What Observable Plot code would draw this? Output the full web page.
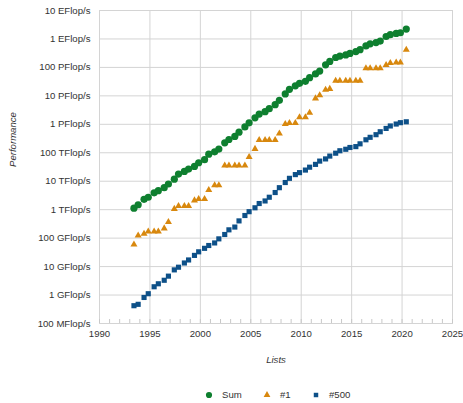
<!DOCTYPE html>
<html>
<head>
<meta charset="utf-8">
<script src="https://cdn.jsdelivr.net/npm/d3@7"></script>
<script src="https://cdn.jsdelivr.net/npm/@observablehq/plot@0.6"></script>
<style>
body { margin: 0; background: #fff; font-family: "Liberation Sans", Arial, sans-serif; }
#legend svg { display: block; }
</style>
</head>
<body>
<div id="chart"></div>
<div id="legend"></div>
<script>
// Lists: June and November of each year, 1993.06 .. 2020.06
const years = d3.range(1993, 2021);
const lists = years.flatMap(y => y === 2020 ? [y + 5/12] : [y + 5/12, y + 10/12]);

// Performance in GFlop/s
const sumGF = [1128, 1493, 2317, 2732, 3927, 4648, 5947, 7987, 11840, 17900,
  22090, 26700, 33090, 44680, 57000, 89100, 108000, 134500, 223000, 293000,
  374000, 528000, 813000, 1127000, 1690000, 2300000, 2790000, 3540000, 4920000, 6970000,
  11700000, 16950000, 22600000, 27600000, 32400000, 43700000, 58900000, 74200000, 123000000, 162000000,
  223000000, 250000000, 274000000, 309000000, 361000000, 420000000, 567000000, 672000000, 749000000, 845000000,
  1220000000, 1410000000, 1560000000, 1650000000, 2220000000];
const firstGF = [59.7, 124, 143.4, 170, 170, 170, 220.4, 368.2, 1068, 1338,
  1338, 1338, 2121, 2379, 2379, 4938, 7226, 7226, 35860, 35860,
  35860, 35860, 35860, 70720, 136800, 280600, 280600, 280600, 280600, 478200,
  1026000, 1105000, 1105000, 1759000, 1759000, 2566000, 8162000, 10510000, 16324750, 17590000,
  33862700, 33862700, 33862700, 33862700, 33862700, 33862700, 93014600, 93014600, 93014600, 93014600,
  122300000, 143500000, 148600000, 148600000, 415530000];
const lastGF = [0.422, 0.472, 0.822, 1.114, 1.955, 2.489, 3.306, 4.616, 7.67, 9.51,
  13.39, 17.1, 24.73, 33.08, 43.82, 55.1, 67.78, 94.3, 134.3, 195.8,
  245.1, 403.4, 624, 850.6, 1166, 1646, 2026, 2737, 4005, 5929,
  9000, 12640, 17090, 20050, 24670, 31120, 39090, 50940, 60820, 76500,
  96620, 117800, 132800, 153400, 164700, 206400, 286100, 349300, 432200, 548300,
  715600, 874800, 1022000, 1142000, 1228000];

const seriesNames = ["Sum", "#1", "#500"];
const seriesColors = ["#0e7f2f", "#d8880e", "#0d5088"];
const seriesSymbols = ["circle", "triangle", "square"];
const seriesValues = [sumGF, firstGF, lastGF];

const yTicks = [1e-1, 1, 10, 100, 1e3, 1e4, 1e5, 1e6, 1e7, 1e8, 1e9, 1e10];
const yTickLabels = ["100 MFlop/s", "1 GFlop/s", "10 GFlop/s", "100 GFlop/s", "1 TFlop/s", "10 TFlop/s",
  "100 TFlop/s", "1 PFlop/s", "10 PFlop/s", "100 PFlop/s", "1 EFlop/s", "10 EFlop/s"];
const xTicks = d3.range(1990, 2026, 5);
const xMinorTicks = d3.range(1990, 2026, 1);

const rows = [];
seriesNames.forEach((name, s) => {
  seriesValues[s].forEach((v, i) => rows.push({series: name, x: lists[i], y: v}));
});

const markFor = (s, r) => Plot.dot(rows.filter(d => d.series === seriesNames[s]), {
  x: "x", y: "y", symbol: () => seriesSymbols[s], fill: seriesColors[s], r: r
});

const yLabelOf = d => {
  const i = yTicks.findIndex(t => Math.abs(Math.log10(t) - Math.log10(d)) < 1e-6);
  return i >= 0 ? yTickLabels[i] : "";
};

const chart = Plot.plot({
  width: 463,
  height: 378,
  marginTop: 10,
  marginBottom: 55,
  marginLeft: 99,
  marginRight: 11,
  style: {fontFamily: "'Liberation Sans', Arial, sans-serif", fontSize: "9.6px", color: "#333", overflow: "visible"},
  x: {domain: [1990, 2025]},
  y: {type: "log", domain: [1e-1, 1e10], ticks: yTicks, tickFormat: yLabelOf, tickSize: 0, tickPadding: 9, label: null},
  symbol: {type: "identity"},
  marks: [
    Plot.ruleX(xTicks, {stroke: "#d4d4d4"}),
    Plot.ruleY(yTicks, {stroke: "#d4d4d4"}),
    Plot.frame({stroke: "#d4d4d4"}),
    Plot.axisX(xMinorTicks, {tickSize: -4, stroke: "#c8c8c8", tickFormat: () => "", label: null}),
    Plot.axisX(xTicks, {tickSize: 0, tickPadding: 7, tickFormat: d => String(d), label: null, fill: "#333"}),
    Plot.text(["Lists"], {frameAnchor: "bottom", dy: 39, fontStyle: "italic", fill: "#333"}),
    Plot.text(["Performance"], {frameAnchor: "left", dx: -87, rotate: -90, fontStyle: "italic", fill: "#333"}),
    markFor(2, 2.9),
    markFor(1, 2.6),
    markFor(0, 3.6)
  ]
});
document.getElementById("chart").appendChild(chart);

// Legend below the chart
const legendX = [209, 267, 316];
const lsvg = d3.select("#legend").append("svg").attr("width", 463).attr("height", 25)
  .style("font-family", "'Liberation Sans', Arial, sans-serif").style("font-size", "9.6px");
seriesNames.forEach((name, s) => {
  const g = lsvg.append("g").attr("transform", `translate(${legendX[s]},17)`);
  g.append("path")
    .attr("d", d3.symbol(s === 0 ? d3.symbolCircle : s === 1 ? d3.symbolTriangle : d3.symbolSquare, s === 0 ? 30 : 20)())
    .attr("fill", seriesColors[s]);
  g.append("text").attr("x", 13).attr("dy", "0.35em").attr("fill", "#333").text(name);
});
</script>
</body>
</html>
